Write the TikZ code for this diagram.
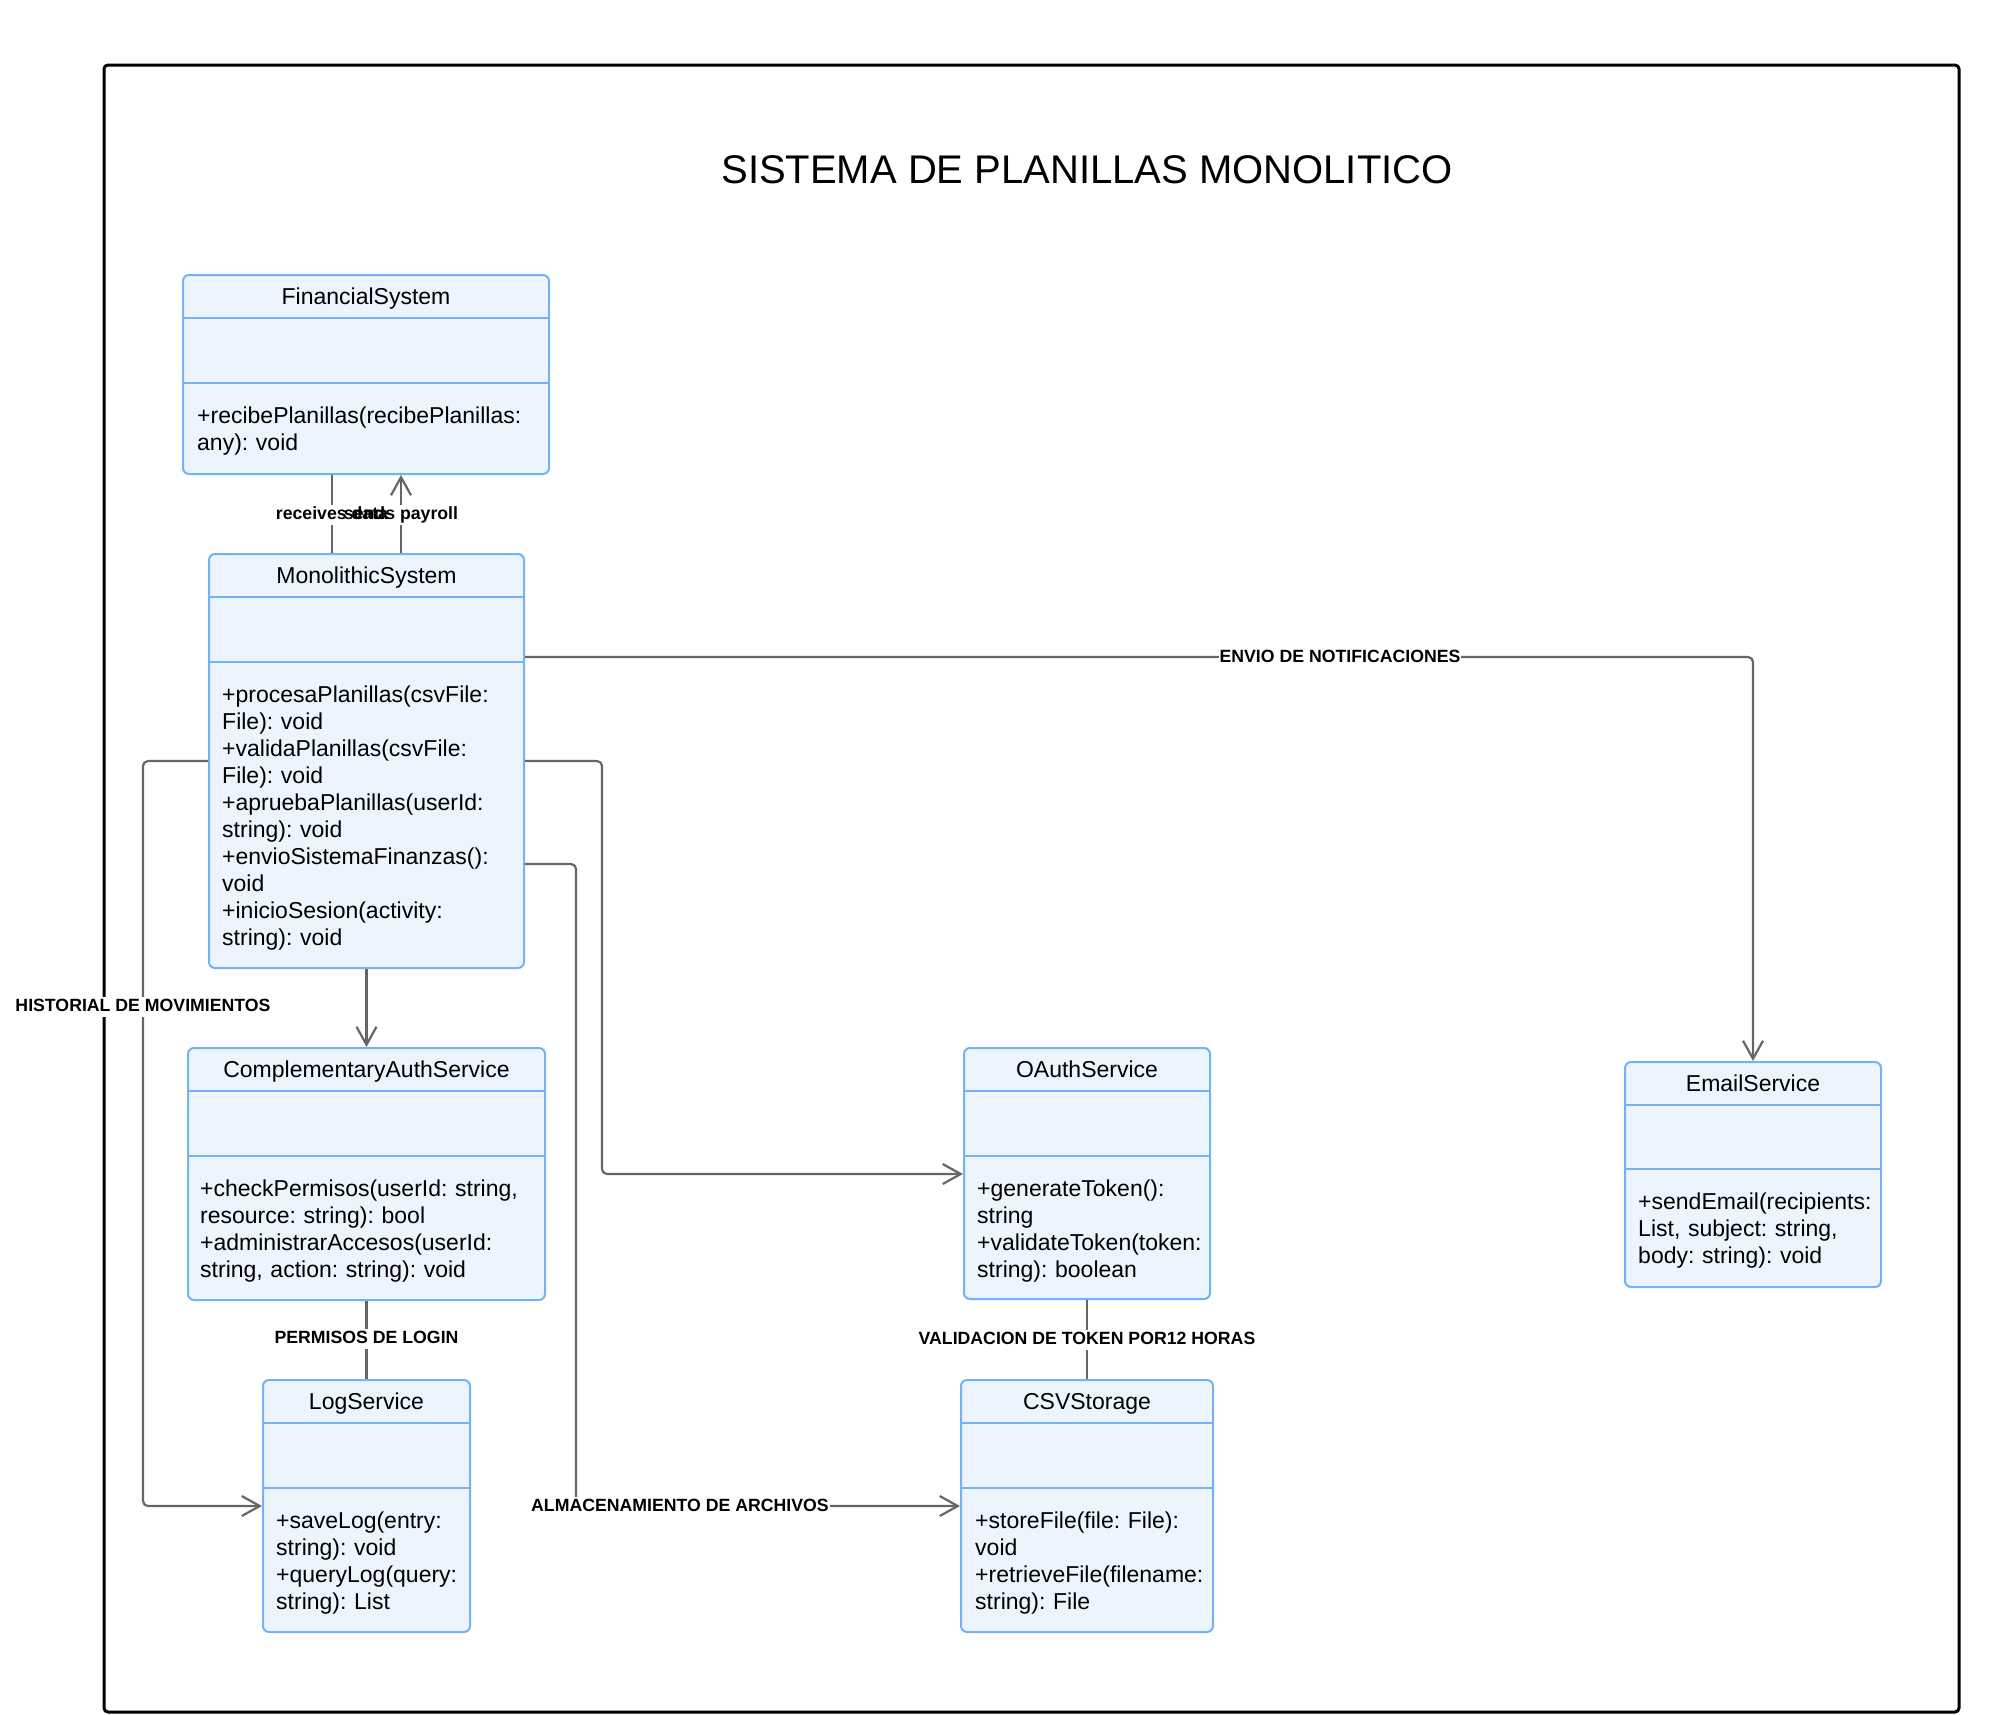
\documentclass[tikz,border=0pt]{standalone}
\usepackage{fontspec}
\setmainfont{Liberation Sans}
\usetikzlibrary{arrows.meta}
\definecolor{boxfill}{HTML}{ECF4FE}
\definecolor{boxdraw}{HTML}{74B2F8}
\definecolor{conngray}{HTML}{666666}
\frenchspacing
\begin{document}
\begin{tikzpicture}[x=1pt,y=-1pt,
  umlbox/.style={draw=boxdraw, fill=boxfill, line width=2pt, rounded corners=6pt, inner sep=0pt},
  divider/.style={draw=boxdraw, line width=2pt},
  cname/.style={anchor=base, font=\fontsize{23}{27}\selectfont, inner sep=0pt},
  meth/.style={anchor=base west, font=\fontsize{23}{27}\selectfont, inner sep=0pt, text width=400pt, align=left},
  conn/.style={draw=conngray, line width=2.2pt, rounded corners=5pt},
  arr/.style={-{Straight Barb[length=18pt, width=20pt]}},
  lbltxt/.style={font=\bfseries\fontsize{17.7}{21}\selectfont, inner xsep=1pt, inner ysep=2pt, text height=13pt, text depth=3.6pt},
  lbl/.style={lbltxt, fill=white},
  frame/.style={draw=black, line width=3pt, rounded corners=4pt}
]
\useasboundingbox (0,0) rectangle (2002,1714);
\draw[frame] (104,65) rectangle (1959,1712);
\node[font=\fontsize{40}{48}\selectfont] (title) at (1087,170) {SISTEMA DE PLANILLAS MONOLITICO};

% boxes
\node[umlbox, minimum width=366pt, minimum height=199pt] (fs) at (366,374.5) {};
\draw[divider] (fs.west |- 0,318) -- (fs.east |- 0,318);
\draw[divider] (fs.west |- 0,383) -- (fs.east |- 0,383);
\node[cname] (fsname) at (366,304.5) {FinancialSystem};
\node[meth] (fsm) at (197,423) {+recibePlanillas(recibePlanillas:\\any): void};

\node[umlbox, minimum width=315pt, minimum height=414pt] (ms) at (366.5,761) {};
\draw[divider] (ms.west |- 0,597) -- (ms.east |- 0,597);
\draw[divider] (ms.west |- 0,662) -- (ms.east |- 0,662);
\node[cname] (msname) at (366.5,583.5) {MonolithicSystem};
\node[meth] (msm) at (222,702) {+procesaPlanillas(csvFile:\\File): void\\+validaPlanillas(csvFile:\\File): void\\+apruebaPlanillas(userId:\\string): void\\+envioSistemaFinanzas():\\void\\+inicioSesion(activity:\\string): void};

\node[umlbox, minimum width=357pt, minimum height=252pt] (cas) at (366.5,1174) {};
\draw[divider] (cas.west |- 0,1091) -- (cas.east |- 0,1091);
\draw[divider] (cas.west |- 0,1156) -- (cas.east |- 0,1156);
\node[cname] (casname) at (366.5,1077.5) {ComplementaryAuthService};
\node[meth] (casm) at (200,1196) {+checkPermisos(userId: string,\\resource: string): bool\\+administrarAccesos(userId:\\string, action: string): void};

\node[umlbox, minimum width=207pt, minimum height=252pt] (log) at (366.5,1506) {};
\draw[divider] (log.west |- 0,1423) -- (log.east |- 0,1423);
\draw[divider] (log.west |- 0,1488) -- (log.east |- 0,1488);
\node[cname] (logname) at (366.5,1409.5) {LogService};
\node[meth] (logm) at (276,1528) {+saveLog(entry:\\string): void\\+queryLog(query:\\string): List};

\node[umlbox, minimum width=246pt, minimum height=251pt] (oauth) at (1087,1173.5) {};
\draw[divider] (oauth.west |- 0,1091) -- (oauth.east |- 0,1091);
\draw[divider] (oauth.west |- 0,1156) -- (oauth.east |- 0,1156);
\node[cname] (oauthname) at (1087,1077.5) {OAuthService};
\node[meth] (oauthm) at (977,1196) {+generateToken():\\string\\+validateToken(token:\\string): boolean};

\node[umlbox, minimum width=252pt, minimum height=252pt] (csv) at (1087,1506) {};
\draw[divider] (csv.west |- 0,1423) -- (csv.east |- 0,1423);
\draw[divider] (csv.west |- 0,1488) -- (csv.east |- 0,1488);
\node[cname] (csvname) at (1087,1409.5) {CSVStorage};
\node[meth] (csvm) at (975,1528) {+storeFile(file: File):\\void\\+retrieveFile(filename:\\string): File};

\node[umlbox, minimum width=256pt, minimum height=225pt] (email) at (1753,1174.5) {};
\draw[divider] (email.west |- 0,1105) -- (email.east |- 0,1105);
\draw[divider] (email.west |- 0,1169) -- (email.east |- 0,1169);
\node[cname] (emailname) at (1753,1091.5) {EmailService};
\node[meth] (emailm) at (1638,1209) {+sendEmail(recipients:\\List, subject: string,\\body: string): void};

% connectors
\draw[conn] (ms.north -| 332,0) -- (fs.south -| 332,0);
\draw[conn, arr] (ms.north -| 401,0) -- (fs.south -| 401,0);
\draw[conn, arr] (ms.east |- 0,657) -| (email.north);
\draw[conn, arr] (ms.east |- 0,761) -| (602,1174) -- (oauth.west |- 0,1174);
\draw[conn, arr] (ms.east |- 0,864) -| (576,1506) -- (csv.west |- 0,1506);
\draw[conn, arr] (ms.west |- 0,761) -| (143,1506) -- (log.west |- 0,1506);
\draw[conn, arr] (ms.south) -- (cas.north);
\draw[conn] (cas.south) -- (log.north);
\draw[conn] (oauth.south) -- (csv.north);

% labels
\node[lbl] (lblbg1) at (332,515) {\phantom{receives data}};
\node[lbl] (lblbg2) at (401,515) {\phantom{sends payroll}};
\node[lbltxt] (lblrd) at (332,515) {receives data};
\node[lbltxt] (lblsp) at (401,515) {sends payroll};
\node[lbl] (lblenv) at (1340,658) {ENVIO DE NOTIFICACIONES};
\node[lbl] (lblalm) at (680,1507) {ALMACENAMIENTO DE ARCHIVOS};
\node[lbl] (lblhis) at (143,1007) {HISTORIAL DE MOVIMIENTOS};
\node[lbl] (lblper) at (366.5,1339) {PERMISOS DE LOGIN};
\node[lbl] (lblval) at (1087,1340) {VALIDACION DE TOKEN POR12 HORAS};
\end{tikzpicture}
\end{document}
